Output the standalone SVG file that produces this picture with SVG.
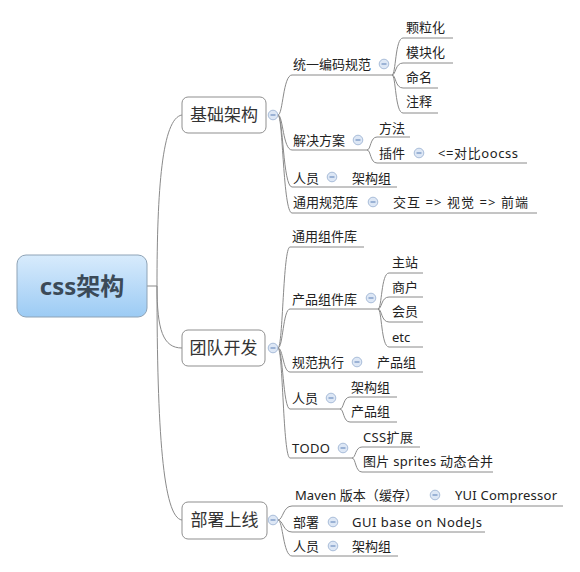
<svg xmlns="http://www.w3.org/2000/svg" width="580" height="572" viewBox="0 0 580 572">
<defs>
<linearGradient id="rootg" x1="0" y1="0" x2="0" y2="1">
<stop offset="0" stop-color="#d8ebfc"/>
<stop offset="1" stop-color="#9ccbf4"/>
</linearGradient>
<g id="ic">
<circle r="4.8" fill="#dde7f5" stroke="#a9bdd9" stroke-width="1"/>
<line x1="-2.5" y1="0" x2="2.5" y2="0" stroke="#6f8fc0" stroke-width="1.2"/>
</g>
</defs>
<style>
text{font-family:"Noto Sans","Noto Sans CJK SC",sans-serif;fill:#222;}
.t{font-size:13px;}
.m{font-size:17px;fill:#333;}
.r{font-size:24px;font-weight:bold;fill:#3b4a58;}
.u{stroke:#8a8a8a;stroke-width:1;fill:none;}
.c path{stroke:#8a8a8a;stroke-width:1;fill:none;}
.box{fill:#fff;stroke:#8f8f8f;stroke-width:1;}
</style>
<rect width="580" height="572" fill="#fff"/>
<g class="c" id="connectors">
<path d="M147,286 L157,286 C157,190 162,118 182,115"/>
<path d="M157,286 C157,330 163,348 182,348"/>
<path d="M157,286 C157,430 163,518 182,520"/>
<path d="M278,115 C283,115 283,75 292,75"/>
<path d="M278,115 C283,115 283,150 292,150"/>
<path d="M278,115 C283,115 283,187 292,187"/>
<path d="M278,115 C283,115 283,213 292,213"/>
<path d="M392,75 C396,75 395,38 403,38"/>
<path d="M392,75 C396,75 395,63 403,63"/>
<path d="M392,75 C396,75 395,88 403,88"/>
<path d="M392,75 C396,75 395,113 403,113"/>
<path d="M367,150 C371,150 370,137 377,137"/>
<path d="M367,150 C371,150 370,163 377,163"/>
<path d="M278,348 C283,348 283,247 290,247"/>
<path d="M278,348 C283,348 283,309 290,309"/>
<path d="M278,348 C283,348 283,372 290,372"/>
<path d="M278,348 C283,348 283,409 290,409"/>
<path d="M278,348 C283,348 283,458 290,458"/>
<path d="M378,309 C382,309 381,273 389,273"/>
<path d="M378,309 C382,309 381,297 389,297"/>
<path d="M378,309 C382,309 381,322 389,322"/>
<path d="M378,309 C382,309 381,347 389,347"/>
<path d="M340,409 C344,409 343,397 350,397"/>
<path d="M340,409 C344,409 343,422 350,422"/>
<path d="M352,458 C356,458 355,447 362,447"/>
<path d="M352,458 C356,458 355,472 362,472"/>
<path d="M278,520 C283,520 283,506 292,506"/>
<path d="M278,520 C283,520 283,532 292,532"/>
<path d="M278,520 C283,520 283,556 292,556"/>
</g>
<g id="root">
<rect x="17" y="255" width="130" height="62" rx="9" fill="url(#rootg)" stroke="#8ea3b6" stroke-width="1"/>
<text class="r" x="82" y="295" text-anchor="middle">css架构</text>
</g>
<g id="n-jichu">
<rect class="box" x="182" y="97" width="84" height="36" rx="6"/>
<text class="m" x="224" y="121" text-anchor="middle">基础架构</text>
<use href="#ic" x="273" y="115"/>
</g>
<g id="n-tongyi">
<text class="t" x="293" y="69">统一编码规范</text>
<line class="u" x1="292" y1="75" x2="392" y2="75"/>
<use href="#ic" x="384" y="64"/>
</g>
<g id="n-keli"><text class="t" x="406" y="32">颗粒化</text><line class="u" x1="403" y1="38" x2="453" y2="38"/></g>
<g id="n-mokuai"><text class="t" x="406" y="57">模块化</text><line class="u" x1="403" y1="63" x2="453" y2="63"/></g>
<g id="n-mingming"><text class="t" x="406" y="82">命名</text><line class="u" x1="403" y1="88" x2="438" y2="88"/></g>
<g id="n-zhushi"><text class="t" x="406" y="106">注释</text><line class="u" x1="403" y1="113" x2="438" y2="113"/></g>
<g id="n-jiejue">
<text class="t" x="293" y="145">解决方案</text>
<line class="u" x1="292" y1="150" x2="367" y2="150"/>
<use href="#ic" x="358" y="140"/>
</g>
<g id="n-fangfa"><text class="t" x="379" y="133">方法</text><line class="u" x1="377" y1="137" x2="410" y2="137"/></g>
<g id="n-chajian"><text class="t" x="379" y="158">插件</text><line class="u" x1="377" y1="163" x2="430" y2="163"/><use href="#ic" x="419" y="153"/></g>
<g id="n-oocss"><text class="t" x="438" y="158" textLength="80" lengthAdjust="spacing">&lt;=对比oocss</text><line class="u" x1="430" y1="163" x2="527" y2="163"/></g>
<g id="n-renyuan1"><text class="t" x="293" y="183">人员</text><line class="u" x1="292" y1="187" x2="345" y2="187"/><use href="#ic" x="332" y="177"/></g>
<g id="n-jiagou1"><text class="t" x="352" y="183">架构组</text><line class="u" x1="345" y1="187" x2="397" y2="187"/></g>
<g id="n-tongyong"><text class="t" x="293" y="207">通用规范库</text><line class="u" x1="292" y1="213" x2="386" y2="213"/><use href="#ic" x="373" y="202"/></g>
<g id="n-jiaohu"><text class="t" x="393" y="207" textLength="135" lengthAdjust="spacing">交互 =&gt; 视觉 =&gt; 前端</text><line class="u" x1="386" y1="213" x2="537" y2="213"/></g>
<g id="n-tuandui">
<rect class="box" x="182" y="330" width="83" height="36" rx="6"/>
<text class="m" x="223.5" y="354" text-anchor="middle">团队开发</text>
<use href="#ic" x="273" y="348"/>
</g>
<g id="n-tyzj"><text class="t" x="292" y="241">通用组件库</text><line class="u" x1="290" y1="247" x2="364" y2="247"/></g>
<g id="n-cpzj"><text class="t" x="292" y="304">产品组件库</text><line class="u" x1="290" y1="309" x2="378" y2="309"/><use href="#ic" x="371" y="298"/></g>
<g id="n-zhuzhan"><text class="t" x="392" y="267">主站</text><line class="u" x1="389" y1="273" x2="423" y2="273"/></g>
<g id="n-shanghu"><text class="t" x="392" y="292">商户</text><line class="u" x1="389" y1="297" x2="423" y2="297"/></g>
<g id="n-huiyuan"><text class="t" x="392" y="316">会员</text><line class="u" x1="389" y1="322" x2="423" y2="322"/></g>
<g id="n-etc"><text class="t" x="392" y="342">etc</text><line class="u" x1="389" y1="347" x2="423" y2="347"/></g>
<g id="n-guifan"><text class="t" x="292" y="367">规范执行</text><line class="u" x1="290" y1="372" x2="370" y2="372"/><use href="#ic" x="357" y="362"/></g>
<g id="n-chanpin1"><text class="t" x="377" y="367">产品组</text><line class="u" x1="370" y1="372" x2="423" y2="372"/></g>
<g id="n-renyuan2"><text class="t" x="292" y="403">人员</text><line class="u" x1="290" y1="409" x2="340" y2="409"/><use href="#ic" x="331" y="398"/></g>
<g id="n-jiagou2"><text class="t" x="351" y="392">架构组</text><line class="u" x1="350" y1="397" x2="397" y2="397"/></g>
<g id="n-chanpin2"><text class="t" x="351" y="416">产品组</text><line class="u" x1="350" y1="422" x2="397" y2="422"/></g>
<g id="n-todo"><text class="t" x="292" y="453" textLength="38" lengthAdjust="spacing">TODO</text><line class="u" x1="290" y1="458" x2="352" y2="458"/><use href="#ic" x="343" y="448"/></g>
<g id="n-css"><text class="t" x="363" y="442" textLength="50" lengthAdjust="spacing">CSS扩展</text><line class="u" x1="362" y1="447" x2="420" y2="447"/></g>
<g id="n-sprites"><text class="t" x="363" y="466" textLength="130" lengthAdjust="spacing">图片 sprites 动态合并</text><line class="u" x1="362" y1="472" x2="493" y2="472"/></g>
<g id="n-bushu">
<rect class="box" x="182" y="502" width="85" height="37" rx="6"/>
<text class="m" x="224.5" y="526" text-anchor="middle">部署上线</text>
<use href="#ic" x="273" y="520"/>
</g>
<g id="n-maven"><text class="t" x="295" y="500" textLength="123" lengthAdjust="spacing">Maven 版本（缓存）</text><line class="u" x1="292" y1="506" x2="448" y2="506"/><use href="#ic" x="435" y="495"/></g>
<g id="n-yui"><text class="t" x="455" y="500" textLength="102" lengthAdjust="spacing">YUI Compressor</text><line class="u" x1="448" y1="506" x2="563" y2="506"/></g>
<g id="n-bs"><text class="t" x="293" y="527">部署</text><line class="u" x1="292" y1="532" x2="345" y2="532"/><use href="#ic" x="333" y="522"/></g>
<g id="n-gui"><text class="t" x="352" y="527" textLength="130" lengthAdjust="spacing">GUI base on NodeJs</text><line class="u" x1="345" y1="532" x2="485" y2="532"/></g>
<g id="n-renyuan3"><text class="t" x="293" y="551">人员</text><line class="u" x1="292" y1="556" x2="345" y2="556"/><use href="#ic" x="333" y="546"/></g>
<g id="n-jiagou3"><text class="t" x="352" y="551">架构组</text><line class="u" x1="345" y1="556" x2="398" y2="556"/></g>
</svg>
